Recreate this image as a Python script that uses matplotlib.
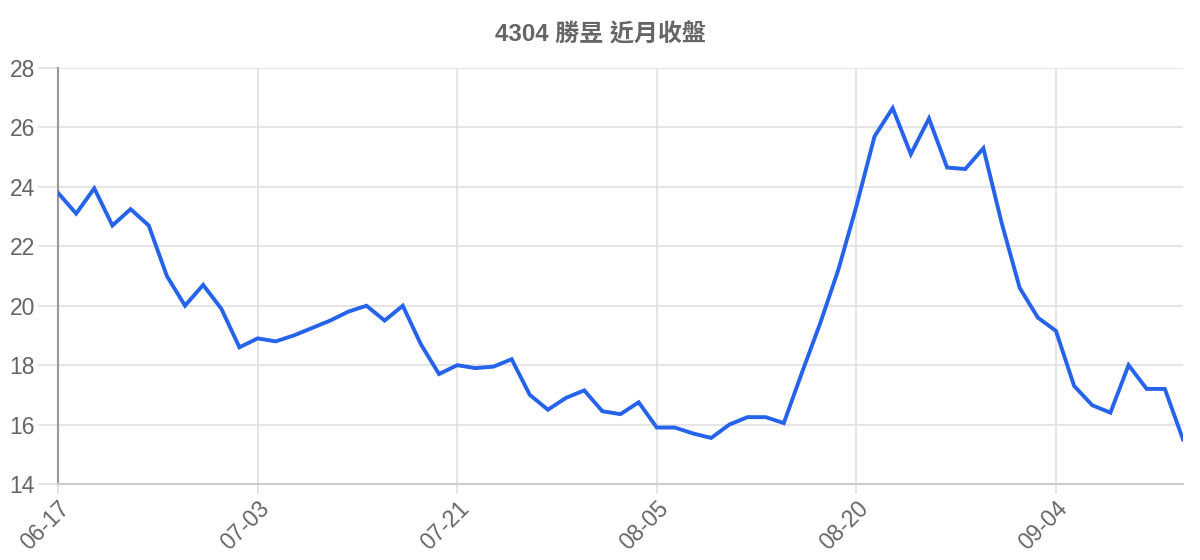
import matplotlib.pyplot as plt
plt.switch_backend('agg')

plt.rcParams['font.family'] = ['Liberation Sans', 'Noto Sans CJK TC', 'DejaVu Sans']

title = "4304 勝昱 近月收盤"

dates = [
    "06-17", "06-18", "06-19", "06-20", "06-23", "06-24", "06-25", "06-26",
    "06-30", "07-01", "07-02", "07-03", "07-04", "07-07", "07-08", "07-09",
    "07-10", "07-14", "07-15", "07-16", "07-17", "07-18", "07-21", "07-22",
    "07-23", "07-24", "07-25", "07-28", "07-29", "07-30", "07-31", "08-01",
    "08-04", "08-05", "08-06", "08-07", "08-08", "08-11", "08-12", "08-13",
    "08-14", "08-15", "08-18", "08-19", "08-20", "08-21", "08-22", "08-25",
    "08-26", "08-27", "08-28", "08-29", "09-01", "09-02", "09-03", "09-04",
    "09-05", "09-08", "09-09", "09-10", "09-11", "09-12", "09-15",
]

close = [
    23.8, 23.1, 23.95, 22.7, 23.25, 22.7, 21.0, 20.0,
    20.7, 19.9, 18.6, 18.9, 18.8, 19.0, 19.25, 19.5,
    19.8, 20.0, 19.5, 20.0, 18.7, 17.7, 18.0, 17.9,
    17.95, 18.2, 17.0, 16.5, 16.9, 17.15, 16.45, 16.35,
    16.75, 15.9, 15.9, 15.7, 15.55, 16.0, 16.25, 16.25,
    16.05, 17.75, 19.4, 21.2, 23.35, 25.7, 26.65, 25.1,
    26.3, 24.65, 24.6, 25.3, 22.8, 20.6, 19.6, 19.15,
    17.3, 16.65, 16.4, 18.0, 17.2, 17.2, 15.5,
]

tick_every = 11
yticks = [14, 16, 18, 20, 22, 24, 26, 28]

grid_col = '#e0e0e0'
text_col = '#666666'

fig = plt.figure(figsize=(12, 5.6), dpi=100)
ax = fig.add_axes([58 / 1200, 1 - 484 / 560, 1125 / 1200, 416 / 560])

x = list(range(len(close)))
ax.plot(x, close, color='#2563eb', linewidth=2.8, solid_joinstyle='miter', zorder=3)

ax.set_xlim(0, len(close) - 1)
ax.set_ylim(14, 28)

ax.set_yticks(yticks)
ax.set_yticklabels([str(v) for v in yticks])
xt = x[::tick_every]
ax.set_xticks(xt)
ax.set_xticklabels([dates[i] for i in xt], rotation=45, ha='right', rotation_mode='anchor')

ax.grid(True, color=grid_col, linewidth=1.2, zorder=0)
ax.tick_params(axis='y', length=14.5, width=1.2, color=grid_col, pad=2,
               labelsize=16.5, labelcolor=text_col)
ax.tick_params(axis='x', length=7.5, width=1.2, color=grid_col, pad=2,
               labelsize=16.5, labelcolor=text_col)

for s in ['top', 'right']:
    ax.spines[s].set_visible(False)
ax.spines['left'].set_color('#999999')
ax.spines['left'].set_linewidth(1.5)
ax.spines['bottom'].set_color('#cccccc')
ax.spines['bottom'].set_linewidth(1.5)

fig.text(0.5, 1 - 35 / 560, title, ha='center', va='center',
         fontsize=17.3, fontweight='bold', color=text_col)

fig.savefig('out.png', dpi=100, facecolor='white')
